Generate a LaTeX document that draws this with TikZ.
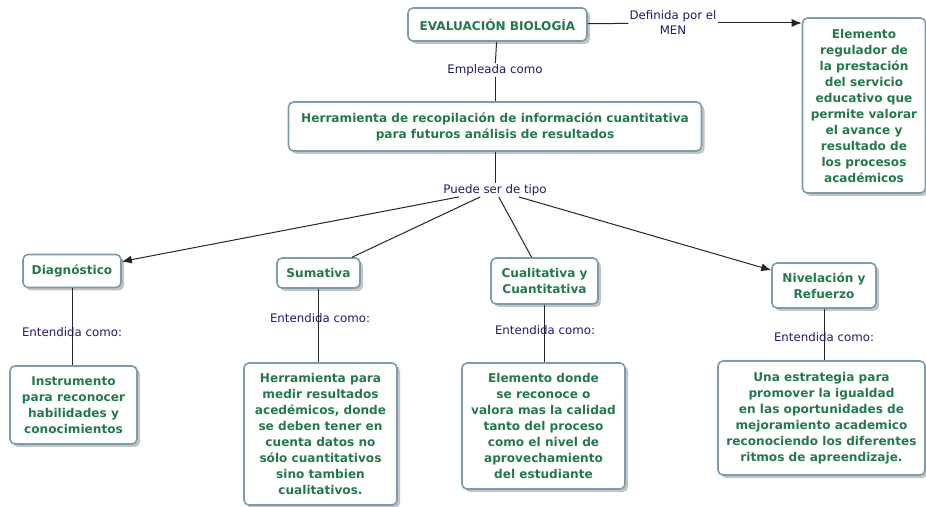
\documentclass[tikz,border=0pt]{standalone}
\usepackage{fontspec}
\setmainfont{DejaVu Sans}
\usetikzlibrary{shadows,arrows.meta}
\definecolor{bord}{HTML}{7A9DAD}
\definecolor{txtg}{HTML}{227A4A}
\definecolor{navy}{HTML}{1C1C6E}
\definecolor{shad}{HTML}{C4C4C4}
\tikzset{
 box/.style={draw=bord, line width=1.6pt, rounded corners=5pt, fill=white, align=center,
   font=\bfseries\fontsize{12.1}{16}\selectfont, text=txtg, inner sep=1pt,
   drop shadow={shadow xshift=3pt, shadow yshift=-3pt, fill=shad, opacity=1}},
 lbl/.style={text=navy, font=\fontsize{11.8}{15}\selectfont, align=center, inner sep=1pt},
 conn/.style={draw=black!85, line width=1pt},
 arr/.style={conn, -{Latex[length=10pt,width=8pt]}},
}
\begin{document}
\begin{tikzpicture}[x=1pt,y=1pt]
\useasboundingbox[fill=white] (0,0) rectangle (926,506);
% boxes
\node[box, minimum width=179pt, minimum height=33pt] (eval) at (497.5,481.5) {EVALUACIÓN BIOLOGÍA};
\node[box, minimum width=123pt, minimum height=175pt] (elem) at (864,400.5)
 {Elemento\\regulador de\\la prestación\\del servicio\\educativo que\\permite valorar\\el avance y\\resultado de\\los procesos\\académicos};
\node[box, minimum width=413pt, minimum height=49pt] (herr) at (495,379.5)
 {Herramienta de recopilación de información cuantitativa\\para futuros análisis de resultados};
\node[box, minimum width=98pt, minimum height=33pt] (diag) at (72,235) {Diagnóstico};
\node[box, minimum width=83pt, minimum height=30pt] (suma) at (318.5,233) {Sumativa};
\node[box, minimum width=107pt, minimum height=46pt] (cual) at (544.5,225) {Cualitativa y\\Cuantitativa};
\node[box, minimum width=104pt, minimum height=45pt] (nive) at (824,220.5) {Nivelación y\\Refuerzo};
\node[box, minimum width=127pt, minimum height=78pt] (instr) at (73.5,101)
 {Instrumento\\para reconocer\\habilidades y\\conocimientos};
\node[box, minimum width=153pt, minimum height=142pt] (medir) at (320.5,72)
 {Herramienta para\\medir resultados\\acedémicos, donde\\se deben tener en\\cuenta datos no\\sólo cuantitativos\\sino tambien\\cualitativos.};
\node[box, minimum width=163pt, minimum height=126pt] (donde) at (543.5,80)
 {Elemento donde\\se reconoce o\\valora mas la calidad\\tanto del proceso\\como el nivel de\\aprovechamiento\\del estudiante};
\node[box, minimum width=207pt, minimum height=114pt] (una) at (821.5,88)
 {Una estrategia para\\promover la igualdad\\en las oportunidades de\\mejoramiento academico\\reconociendo los diferentes\\ritmos de apreendizaje.};
% labels
\node[lbl] (def) at (673,483) {Definida por el\\MEN};
\node[lbl] (empl) at (495,436) {Empleada como};
\node[lbl] (puede) at (495,316) {Puede ser de tipo};
% connectors
\draw[conn] (eval) -- (def);
\draw[arr] (def) -- (elem.west |- def);
\draw[conn] (eval) -- (empl);
\draw[conn] (empl) -- (herr);
\draw[conn] (herr) -- (puede);
\draw[arr] (puede) -- (diag);
\draw[conn] (puede) -- (suma);
\draw[conn] (puede) -- (cual);
\draw[arr] (puede) -- (nive);
\draw[conn] (diag.south) -- (diag.south |- instr.north);
\draw[conn] (suma.south) -- (suma.south |- medir.north);
\draw[conn] (cual.south) -- (cual.south |- donde.north);
\draw[conn] (nive.south) -- (nive.south |- una.north);
\node[lbl] (ent1) at (72,174) {Entendida como:};
\node[lbl] (ent2) at (320,188) {Entendida como:};
\node[lbl] (ent3) at (545,176) {Entendida como:};
\node[lbl] (ent4) at (824,169) {Entendida como:};
\end{tikzpicture}
\end{document}
